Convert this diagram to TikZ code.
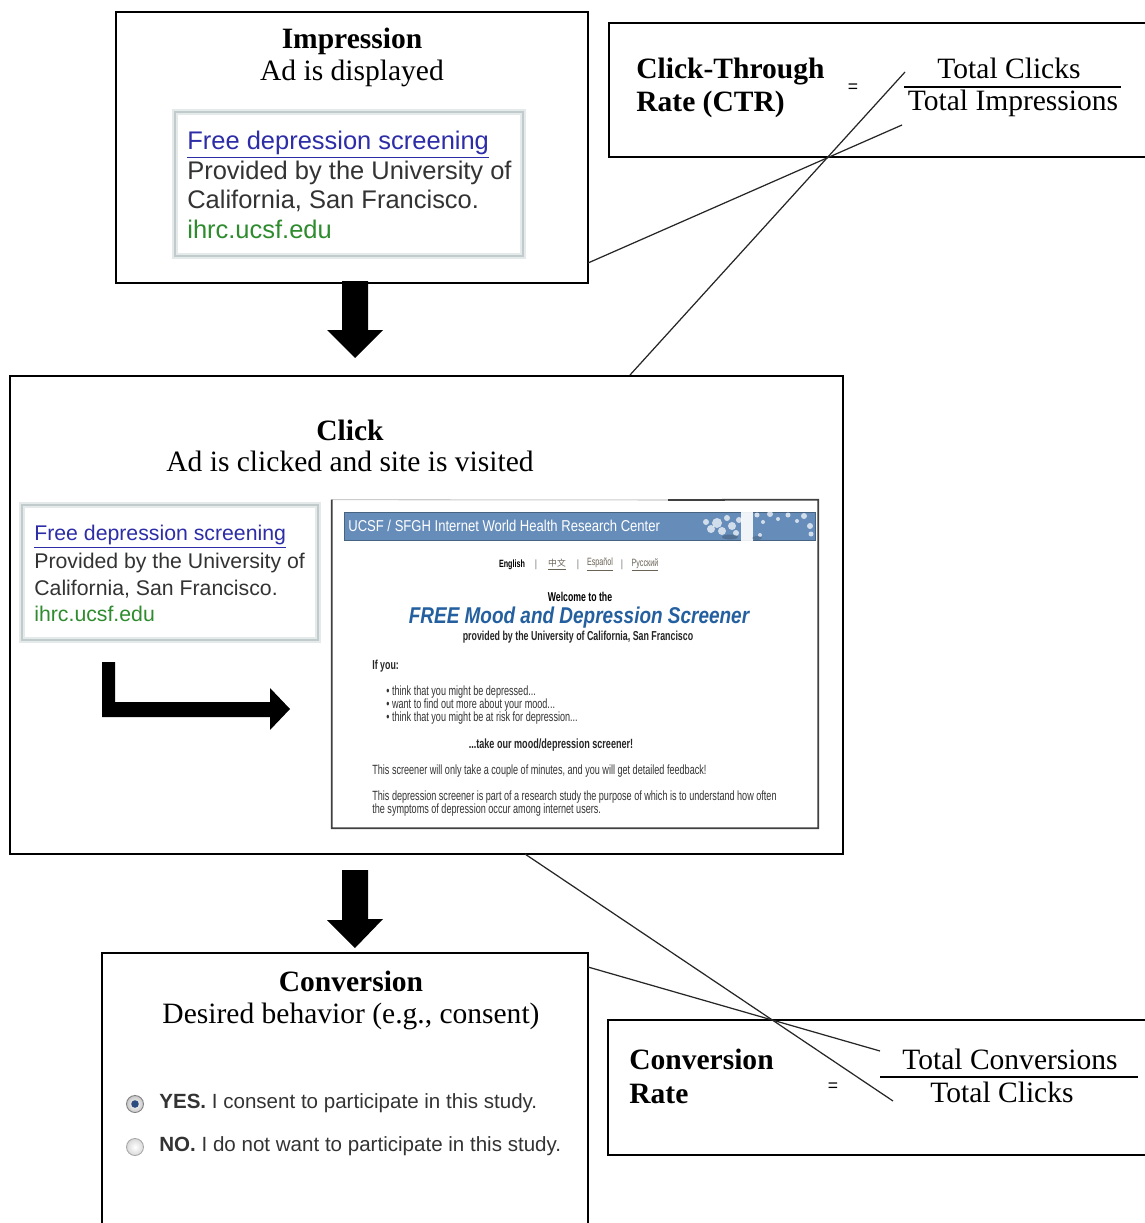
\documentclass[tikz,border=0pt]{standalone}
\usepackage{fontspec}
\setmainfont{Liberation Serif}
\setsansfont{Liberation Sans}
\newfontfamily\shotfont[FakeStretch=0.68]{Liberation Sans}
\newfontfamily\bannerfont[FakeStretch=0.83]{Liberation Sans}
\newfontfamily\cjk{Noto Sans CJK SC}
\usetikzlibrary{arrows.meta,positioning,fit}
\definecolor{adblue}{HTML}{2D2DA8}
\definecolor{adgreen}{HTML}{2E8B2E}
\definecolor{adink}{HTML}{333333}
\definecolor{adedge}{HTML}{C2CBCB}
\definecolor{adglow}{HTML}{E4EAEA}
\definecolor{bandblue}{HTML}{668DBA}
\definecolor{screenblue}{HTML}{24609F}
\definecolor{shotink}{HTML}{333333}
\definecolor{linkgray}{HTML}{6A6255}
\definecolor{radioblue}{HTML}{2C4C80}

\begin{document}
\begin{tikzpicture}[x=0.02cm,y=-0.02cm,
  panel/.style={draw=black,line width=1.6pt,inner sep=0pt},
  head/.style={font=\fontsize{16.8}{20}\selectfont\bfseries,inner sep=0pt,anchor=base},
  sub/.style={font=\fontsize{16.8}{20}\selectfont,inner sep=0pt,anchor=base},
  adtext/.style={text=adink,inner sep=0pt,anchor=base west},
  adframe/.style={draw=adedge,line width=0.8pt,
    preaction={draw=adglow,line width=3.4pt},inner sep=0pt},
  shot/.style={font=\shotfont\fontsize{7.6}{8}\selectfont,text=shotink,
    inner sep=0pt,anchor=west},
  lead/.style={draw=black!85,line width=0.7pt},
  barline/.style={draw=black,line width=0.6pt},
  eqsign/.style={font=\sffamily\fontsize{10}{12}\selectfont,inner sep=0pt},
  radio/.style={circle,draw=black!50,line width=0.5pt,minimum size=0.34cm,
    inner sep=0pt,shade,inner color=white,outer color=black!22}]
\fill[white] (0,0) rectangle (1144,1223);
\useasboundingbox (0,0) rectangle (1144,1223);

% --- panels
\node[panel,fit={(116,12) (588,283)}] (imp) {};
\node[panel,fit={(609,23) (1152,157)}] (ctr) {};
\node[panel,fit={(10,376) (843,854)}] (click) {};
\node[panel,fit={(102,953) (588,1240)}] (conv) {};
\node[panel,fit={(608,1020) (1152,1155)}] (cvr) {};

% --- impression
\node[head] (imp-title) at (352,49) {Impression};
\node[sub] (imp-sub) at (352,81) {Ad is displayed};
\node[adframe,fit={(175,112) (523,256)}] (imp-ad) {};
\foreach \y/\txt [count=\n] in {
  150/{\color{adblue}\underline{Free depression screening}},
  180/{Provided by the University of},
  209/{California, San Francisco.},
  238/{\color{adgreen}ihrc.ucsf.edu}
} \node[adtext,font=\sffamily\fontsize{14.5}{16}\selectfont] (imp-ad-\n) at (187,\y) {\txt};

% --- click-through rate
\node[head,anchor=base west] (ctr-name1) at (636,79) {Click-Through};
\node[head,anchor=base west] (ctr-name2) at (636,112) {Rate (CTR)};
\node[eqsign] (ctr-eq) at (853,88) {=};
\node[sub] (ctr-num) at (1009,79) {Total Clicks};
\node[sub] (ctr-den) at (1013,111) {Total Impressions};
\draw[barline] (904,87) -- (1121,87);

% --- click
\node[head] (click-title) at (350,440) {Click};
\node[sub] (click-sub) at (350,471) {Ad is clicked and site is visited};
\node[adframe,fit={(22,505) (318,640)}] (click-ad) {};
\foreach \y/\txt [count=\n] in {
  540/{\color{adblue}\underline{Free depression screening}},
  568/{Provided by the University of},
  595/{California, San Francisco.},
  621/{\color{adgreen}ihrc.ucsf.edu}
} \node[adtext,font=\sffamily\fontsize{12.1}{14}\selectfont] (click-ad-\n) at (34,\y) {\txt};

% bent arrow from the advert to the site
\coordinate (turn) at (102,717);
\coordinate (site-in) at (290,709);
\fill (turn) -- ++(0,-55) -- ++(13,0) -- ++(0,40) -- ++(155,0) -- ++(0,-14)
  -- (site-in) -- ++(-20,21) -- ++(0,-13) -- cycle;

% landing page
\node[inner sep=0pt,fit={(332,500) (818,828)}] (shot) {};
\draw[black!20,line width=0.6pt] (shot.north west) -- (668,500);
\draw[black!75,line width=1pt] (668,500) -- (shot.north east) -- (shot.south east)
  -- (shot.south west) -- (shot.north west);
\fill[bandblue] (344,512) rectangle (815,540);
\draw[bandblue!70!black,line width=0.4pt] (344,512) rectangle (815,540);
% photo strip at the end of the banner
\fill[white,opacity=0.9] (741,511) rectangle (753,541);
\foreach \x/\y/\r in {706/522/3,711/529/4,717/523/5,722/531/4,727/518/3,
  732/526/4,736/533/3,739/520/3,757/515/2.5,763/522/2,770/514/3,778/519/2,
  788/515/2.5,797/521/2,804/516/3,810/526/3,811/534/2.5,760/535/2}
  \fill[white,opacity=0.7] (\x,\y) circle (\r);
\fill[bandblue!55!black,opacity=0.45] (730,537) ellipse (8 and 2.5);
\fill[bandblue!55!black,opacity=0.35] (757,538) ellipse (5 and 2);
\node[font=\bannerfont\fontsize{8.95}{10}\selectfont,text=white,inner sep=0pt,anchor=west]
  (shot-head) at (348,526) {UCSF / SFGH Internet World Health Research Center};
\node[shot,font=\shotfont\bfseries\fontsize{6}{7}\selectfont,anchor=center,text=black]
  (lang-en) at (512,565) {English};
\node[shot,anchor=center,text=linkgray,font=\cjk\fontsize{5}{6}\selectfont]
  (lang-zh) at (557,565) {\underline{中文}};
\node[shot,anchor=center,text=linkgray,font=\shotfont\fontsize{6}{7}\selectfont]
  (lang-es) at (600,565) {\underline{Español}};
\node[shot,anchor=center,text=linkgray,font=\shotfont\fontsize{6}{7}\selectfont]
  (lang-ru) at (645,565) {\underline{Русский}};
\foreach \x [count=\n] in {536,578,622}
  \node[shot,anchor=center,text=black!45,font=\sffamily\fontsize{6}{7}\selectfont]
    (lang-sep-\n) at (\x,565) {|};
\node[shot,font=\shotfont\bfseries\fontsize{7.3}{8}\selectfont,anchor=center,text=black]
  (shot-welcome) at (580,597) {Welcome to the};
\node[font=\bannerfont\bfseries\itshape\fontsize{13}{15}\selectfont,text=screenblue,inner sep=0pt]
  (shot-title) at (579,618) {FREE Mood and Depression Screener};
\node[shot,font=\shotfont\bfseries\fontsize{7.4}{8}\selectfont,anchor=center,text=black!85]
  (shot-by) at (578,637) {provided by the University of California, San Francisco};
\node[shot,font=\shotfont\bfseries\fontsize{7.4}{8}\selectfont,text=black!85]
  (shot-if) at (372,666) {If you:};
\foreach \y/\txt [count=\n] in {
  692/{think that you might be depressed...},
  705/{want to find out more about your mood...},
  718/{think that you might be at risk for depression...}
} \node[shot] (shot-pt-\n) at (386,\y) {• \txt};
\node[shot,font=\shotfont\bfseries\fontsize{7.6}{8}\selectfont,anchor=center,text=black!85]
  (shot-take) at (551,745) {...take our mood/depression screener!};
\node[shot] (shot-l1) at (372,771)
  {This screener will only take a couple of minutes, and you will get detailed feedback!};
\node[shot] (shot-l2) at (372,797)
  {This depression screener is part of a research study the purpose of which is to understand how often};
\node[shot] (shot-l3) at (372,810)
  {the symptoms of depression occur among internet users.};

% --- conversion
\node[head] (conv-title) at (351,991) {Conversion};
\node[sub] (conv-sub) at (351,1023) {Desired behavior (e.g., consent)};
\node[radio] (yes-btn) at (135,1104) {};
\fill[radioblue] (yes-btn.center) circle (3.8);
\node[radio,draw=black!35,outer color=black!15] (no-btn) at (135,1147) {};
\node[adtext,anchor=west,font=\sffamily\fontsize{11.7}{13}\selectfont] (yes-txt) at (159,1103)
  {\textbf{YES.} I consent to participate in this study.};
\node[adtext,anchor=west,font=\sffamily\fontsize{11.7}{13}\selectfont] (no-txt) at (159,1146)
  {\textbf{NO.} I do not want to participate in this study.};

% --- conversion rate
\node[head,anchor=base west] (cvr-name1) at (629,1069) {Conversion};
\node[head,anchor=base west] (cvr-name2) at (629,1103) {Rate};
\node[eqsign] (cvr-eq) at (833,1087) {=};
\node[sub] (cvr-num) at (1010,1069) {Total Conversions};
\node[sub] (cvr-den) at (1002,1102) {Total Clicks};
\draw[barline] (880,1077) -- (1138,1077);

% --- block arrows between the stages
\coordinate (down1) at (355,281);
\coordinate (down1-tip) at (355,358);
\coordinate (down2) at (355,870);
\coordinate (down2-tip) at (355,948);
\foreach \s/\t in {down1/down1-tip,down2/down2-tip}
  \fill (\s) ++(-13,0) -- ++(26,0) -- ++(0,49) -- ++(15,0) -- (\t)
    -- ++(-28,-28) -- ++(15,0) -- cycle;

% --- leader lines to the ratio terms
\coordinate (imp-out) at (588,263);
\coordinate (ctr-low) at (902,125);
\coordinate (click-top) at (630,375);
\coordinate (ctr-high) at (905,72);
\coordinate (click-bot) at (525,854);
\coordinate (cvr-low) at (893,1101);
\coordinate (conv-out) at (588,967);
\coordinate (cvr-high) at (880,1051);
\draw[lead] (imp-out) -- (ctr-low);
\draw[lead] (click-top) -- (ctr-high);
\draw[lead] (click-bot) -- (cvr-low);
\draw[lead] (conv-out) -- (cvr-high);
\end{tikzpicture}
\end{document}
